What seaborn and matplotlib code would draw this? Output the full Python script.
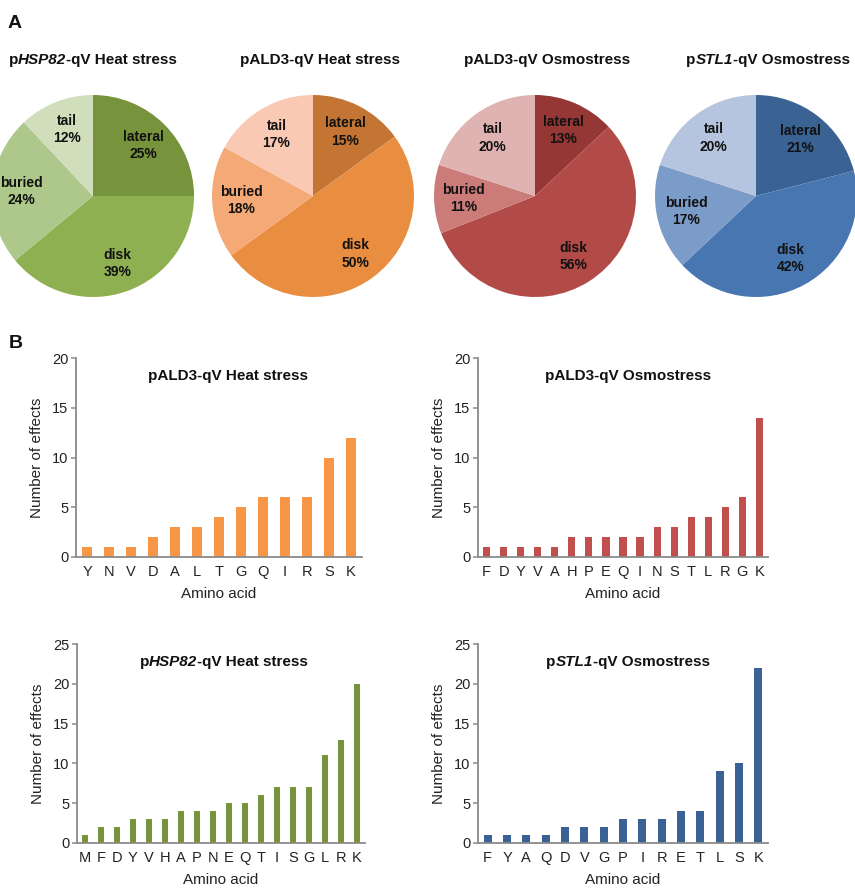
import matplotlib
matplotlib.use("Agg")
import matplotlib.pyplot as plt
import numpy as np
import pandas as pd
import seaborn as sns
from matplotlib.offsetbox import TextArea, HPacker, AnnotationBbox

# ---------------------------------------------------------------- data
regions = ["lateral", "disk", "buried", "tail"]

pie_hsp82_heat = [25, 39, 24, 12]
pie_ald3_heat = [15, 50, 18, 17]
pie_ald3_osmo = [13, 56, 11, 20]
pie_stl1_osmo = [21, 42, 17, 20]

aa_ald3_heat = ["Y", "N", "V", "D", "A", "L", "T", "G", "Q", "I", "R", "S", "K"]
n_ald3_heat = [1, 1, 1, 2, 3, 3, 4, 5, 6, 6, 6, 10, 12]

aa_ald3_osmo = ["F", "D", "Y", "V", "A", "H", "P", "E", "Q", "I", "N", "S", "T", "L", "R", "G", "K"]
n_ald3_osmo = [1, 1, 1, 1, 1, 2, 2, 2, 2, 2, 3, 3, 4, 4, 5, 6, 14]

aa_hsp82_heat = ["M", "F", "D", "Y", "V", "H", "A", "P", "N", "E", "Q", "T", "I", "S", "G", "L", "R", "K"]
n_hsp82_heat = [1, 2, 2, 3, 3, 3, 4, 4, 4, 5, 5, 6, 7, 7, 7, 11, 13, 20]

aa_stl1_osmo = ["F", "Y", "A", "Q", "D", "V", "G", "P", "I", "R", "E", "T", "L", "S", "K"]
n_stl1_osmo = [1, 1, 1, 1, 2, 2, 2, 3, 3, 3, 4, 4, 9, 10, 22]

# title pieces: (text, italic?)
t_hsp82_heat = [("p", False), ("HSP82", True), ("-qV Heat stress", False)]
t_ald3_heat = [("pALD3-qV Heat stress", False)]
t_ald3_osmo = [("pALD3-qV Osmostress", False)]
t_stl1_osmo = [("p", False), ("STL1", True), ("-qV Osmostress", False)]

# ---------------------------------------------------------------- style
sns.set_theme(style="ticks")
plt.rcParams["font.family"] = ["Liberation Sans", "DejaVu Sans"]
plt.rcParams["text.color"] = "#111111"

W, H = 855, 890
fig = plt.figure(figsize=(W / 100, H / 100), dpi=100)


def px_axes(left, top, width, height):
    return fig.add_axes([left / W, 1 - (top + height) / H, width / W, height / H])


def mixed_title(x, y, parts, size=11):
    boxes = [TextArea(s, textprops=dict(fontsize=size, fontweight="bold",
                                         fontstyle="italic" if it else "normal",
                                         color="#111111"))
             for s, it in parts]
    pack = HPacker(children=boxes, align="baseline", pad=0, sep=0)
    ab = AnnotationBbox(pack, (x / W, 1 - y / H), xycoords="figure fraction",
                        frameon=False, box_alignment=(0.5, 0.5), pad=0)
    fig.add_artist(ab)


# ---------------------------------------------------------------- pies
R = 101
pies = [
    (pie_hsp82_heat, ["#77933C", "#8FB051", "#ADC88A", "#D1DEBC"], t_hsp82_heat, 93, 93),
    (pie_ald3_heat, ["#C47534", "#E98D41", "#F5A977", "#F9C9B3"], t_ald3_heat, 313, 320),
    (pie_ald3_osmo, ["#953735", "#B24A47", "#CB7B78", "#DFB3B2"], t_ald3_osmo, 535, 547),
    (pie_stl1_osmo, ["#3A6394", "#4876B0", "#7B9BC8", "#B5C4DF"], t_stl1_osmo, 756, 768),
]
for vals, cols, title, cx, tx in pies:
    ax = px_axes(cx - R, 196 - R, 2 * R, 2 * R)
    names = iter(regions)
    ax.pie(vals, colors=cols, startangle=90, counterclock=False, radius=1,
           wedgeprops=dict(linewidth=0),
           autopct=lambda p: f"{next(names)}\n{p:.0f}%", pctdistance=0.71,
           textprops=dict(fontsize=10, fontweight="bold", color="#111111",
                          linespacing=1.3))
    ax.set_xlim(-1, 1)
    ax.set_ylim(-1, 1)
    ax.set_aspect("equal")
    ax.axis("off")
    mixed_title(tx, 60, title, size=11)

# ---------------------------------------------------------------- bars
bars = [
    (aa_ald3_heat, n_ald3_heat, "#F79646", t_ald3_heat, (76, 358, 286, 199), 20, (228, 376)),
    (aa_ald3_osmo, n_ald3_osmo, "#C0504D", t_ald3_osmo, (478, 358, 290, 199), 20, (628, 376)),
    (aa_hsp82_heat, n_hsp82_heat, "#77933C", t_hsp82_heat, (77, 644, 288, 199), 25, (224, 662)),
    (aa_stl1_osmo, n_stl1_osmo, "#3A6295", t_stl1_osmo, (478, 644, 290, 199), 25, (628, 662)),
]
axis_grey = "#8A8A8A"
for aa, counts, col, title, box, ymax, tpos in bars:
    ax = px_axes(*box)
    df = pd.DataFrame({"Amino acid": aa, "Number of effects": counts})
    sns.barplot(data=df, x="Amino acid", y="Number of effects", color=col,
                saturation=1, width=0.42, linewidth=0, ax=ax)
    ax.set_ylim(0, ymax)
    ax.set_yticks(np.arange(0, ymax + 1, 5))
    ax.set_xlim(-0.5, len(aa) - 0.5)
    sns.despine(ax=ax)
    for s in ("left", "bottom"):
        ax.spines[s].set_color(axis_grey)
        ax.spines[s].set_linewidth(1.3)
    ax.tick_params(axis="y", length=3.5, width=1.1, color=axis_grey, pad=2,
                   labelsize=10.5, labelcolor="#222222")
    ax.tick_params(axis="x", length=0, pad=6, labelsize=10.5, labelcolor="#222222")
    ax.set_xlabel("Amino acid", fontsize=11, color="#222222")
    ax.set_ylabel("Number of effects", fontsize=11, color="#222222")
    ax.xaxis.set_label_coords(0.5, -0.15)
    ax.yaxis.set_label_coords(-32 / box[2], 0.5)
    mixed_title(tpos[0], tpos[1], title, size=11)

# ---------------------------------------------------------------- panel letters
fig.text(8 / W, 1 - 23 / H, "A", fontsize=14, fontweight="bold", va="center", ha="left")
fig.text(9 / W, 1 - 343 / H, "B", fontsize=14, fontweight="bold", va="center", ha="left")

fig.savefig("out.png", dpi=100)
